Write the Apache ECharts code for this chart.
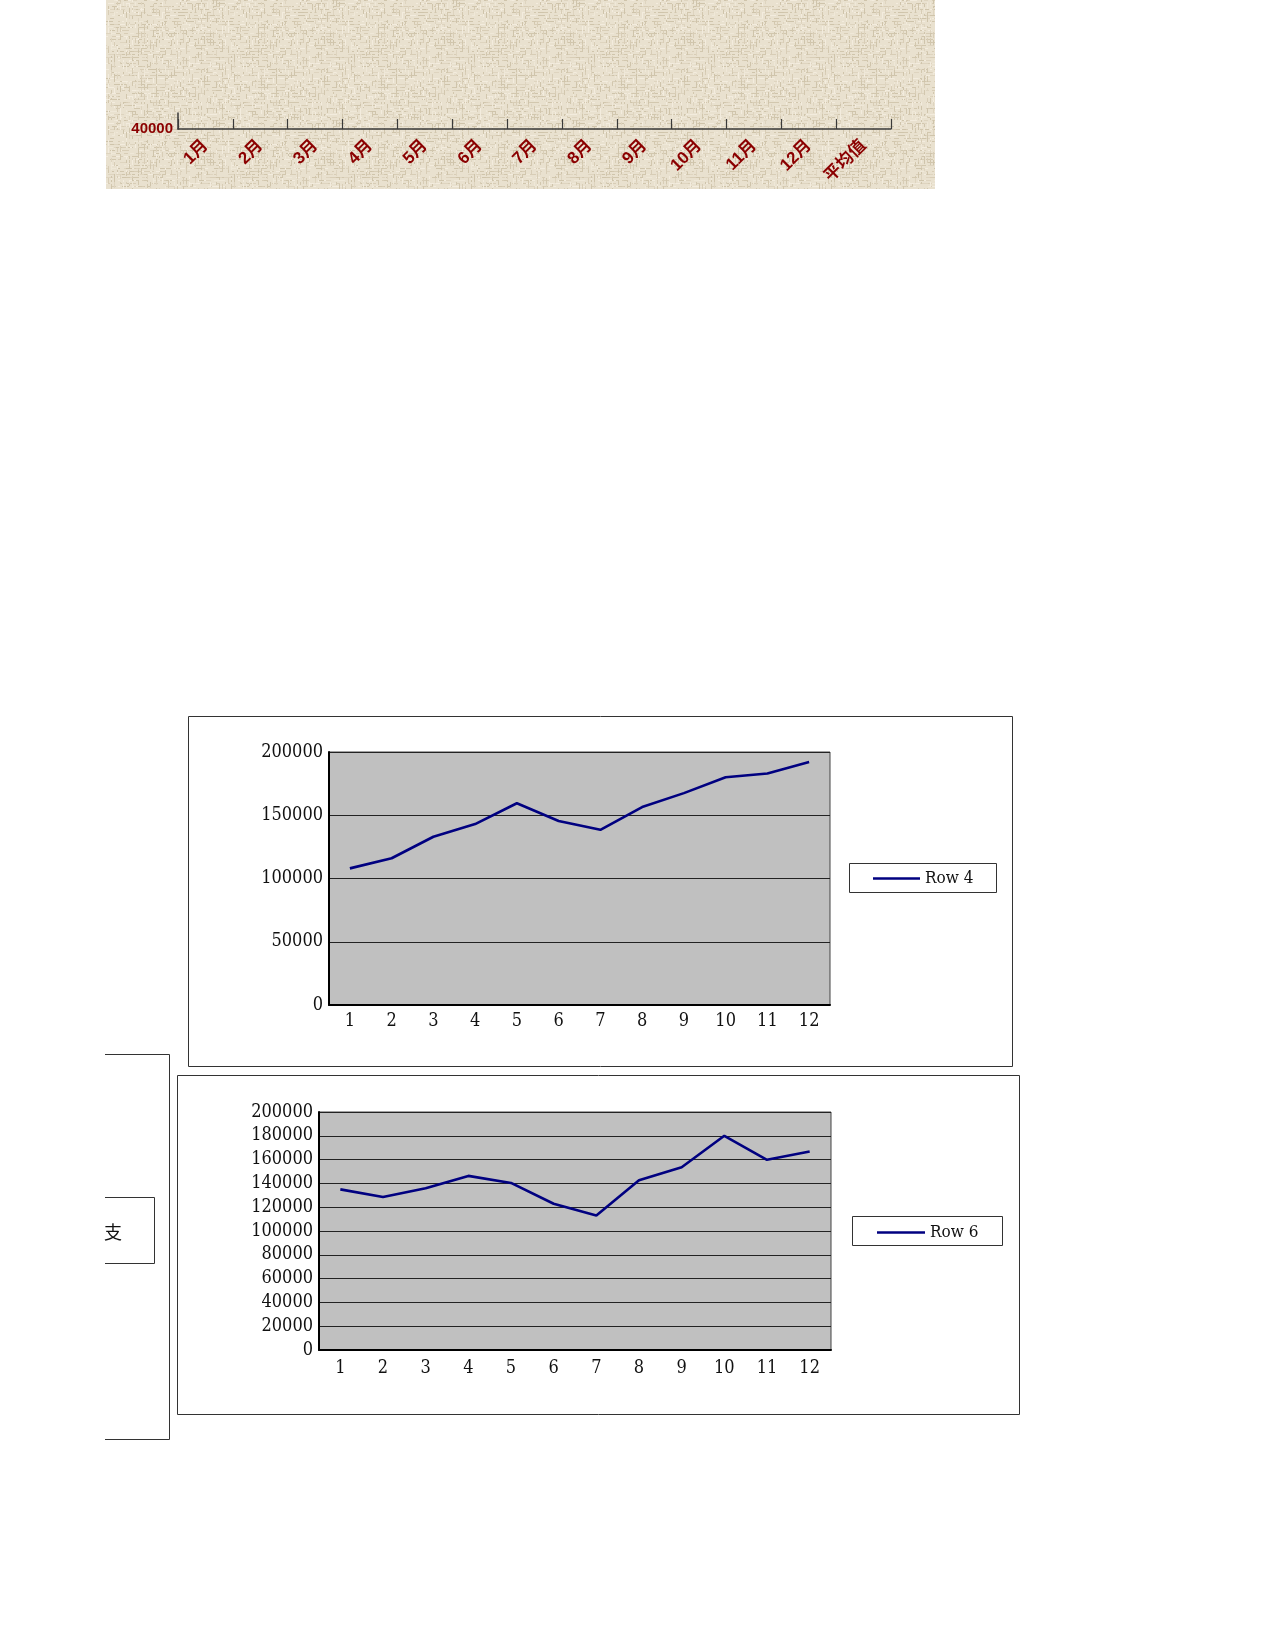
<!DOCTYPE html>
<html>
<head>
<meta charset="utf-8">
<script src="https://cdn.jsdelivr.net/npm/echarts@6/dist/echarts.min.js"></script>
<style>
html,body{margin:0;padding:0;background:#fff;}
#c{width:1275px;height:1650px;}
</style>
</head>
<body>
<div id="c"></div>
<script>
// ---- data ----
var topCategories = ['1月','2月','3月','4月','5月','6月','7月','8月','9月','10月','11月','12月','平均值'];
var topYMin = 40000;
var monthNumbers = ['1','2','3','4','5','6','7','8','9','10','11','12'];
var row4Values = [108000, 116000, 133000, 143000, 159500, 145500, 138500, 156500, 167500, 180000, 183000, 192000];
var row6Values = [135000, 128600, 135900, 146300, 140400, 122900, 113100, 142600, 153600, 180000, 159800, 166800];
var row4Name = 'Row 4';
var row6Name = 'Row 6';
var leftBoxText = '支';

// ---- texture for the top band (decoration only) ----
function makeTexture(){
  var cv = document.createElement('canvas');
  cv.width = 120; cv.height = 120;
  var ctx = cv.getContext('2d');
  ctx.fillStyle = '#e9e1cf';
  ctx.fillRect(0,0,120,120);
  var s = 9871;
  function rnd(){ s = (s*1103515245 + 12345) & 0x7fffffff; return s/0x7fffffff; }
  var cols = ['#d8cdb6','#f3ecde','#d2c7ae','#efe8d8','#ded4bf','#cfc4ab'];
  for (var y=0; y<120; y+=3){
    for (var x=0; x<120; x+=2){
      if (rnd() < 0.35){
        ctx.fillStyle = cols[Math.floor(rnd()*cols.length)];
        ctx.fillRect(x, y, 2 + Math.floor(rnd()*6), 1);
      }
    }
  }
  for (var x2=0; x2<120; x2+=3){
    for (var y2=0; y2<120; y2+=2){
      if (rnd() < 0.25){
        ctx.fillStyle = cols[Math.floor(rnd()*cols.length)];
        ctx.fillRect(x2, y2, 1, 2 + Math.floor(rnd()*5));
      }
    }
  }
  return cv;
}

var serif = "'DejaVu Serif Condensed','Liberation Serif',serif";
function plain(v){ return String(v); }
var chart = echarts.init(document.getElementById('c'), null, {renderer:'canvas'});

var option = {
  animation: false,
  backgroundColor: '#ffffff',
  graphic: [
    {type:'rect', z:-10, shape:{x:106,y:0,width:829,height:189}, style:{fill:{image:makeTexture(), repeat:'repeat'}}},
    {type:'rect', z:-10, shape:{x:188.5,y:716.5,width:824,height:350}, style:{fill:'#fff', stroke:'#333', lineWidth:1}},
    {type:'rect', z:-5, shape:{x:849.5,y:863.5,width:147,height:29}, style:{fill:'#fff', stroke:'#333', lineWidth:1}},
    {type:'polyline', z:-10, shape:{points:[[105,1054.5],[169.5,1054.5],[169.5,1439.5],[105,1439.5]]}, style:{fill:null, stroke:'#333', lineWidth:1}},
    {type:'polyline', z:-10, shape:{points:[[105,1197.5],[154.5,1197.5],[154.5,1263.5],[105,1263.5]]}, style:{fill:null, stroke:'#333', lineWidth:1}},
    {type:'text', z:-9, style:{x:104, y:1232, text:leftBoxText, fill:'#111', font:"18px 'Noto Sans CJK SC'", verticalAlign:'middle'}},
    {type:'rect', z:-10, shape:{x:177.5,y:1075.5,width:842,height:339}, style:{fill:'#fff', stroke:'#333', lineWidth:1}},
    {type:'rect', z:-5, shape:{x:852.5,y:1216.5,width:150,height:29}, style:{fill:'#fff', stroke:'#333', lineWidth:1}}
  ],
  legend: [
    {data:[row4Name], left:873, top:870, padding:0, icon:'rect', itemWidth:47, itemHeight:2.5, itemGap:6,
     textStyle:{fontFamily:serif, fontSize:17, color:'#111'}},
    {data:[row6Name], left:877, top:1224, padding:0, icon:'rect', itemWidth:48, itemHeight:2.5, itemGap:6,
     textStyle:{fontFamily:serif, fontSize:17, color:'#111'}}
  ],
  grid: [
    {left:178, top:113, width:713, height:16, show:false},
    {left:329, top:752, width:501, height:253, show:true, backgroundColor:'#c0c0c0', borderColor:'#444', borderWidth:1},
    {left:319, top:1112, width:512, height:238, show:true, backgroundColor:'#c0c0c0', borderColor:'#444', borderWidth:1}
  ],
  xAxis: [
    {gridIndex:0, type:'category', data:topCategories, boundaryGap:true,
     axisLine:{show:true, lineStyle:{color:'#3a3a3a', width:1.5}},
     axisTick:{show:true, inside:true, length:10, lineStyle:{color:'#3a3a3a', width:1.2}},
     axisLabel:{rotate:45, margin:14, color:'#8b0000', fontWeight:'bold', fontSize:17, fontFamily:"'Liberation Sans','Noto Sans CJK SC',sans-serif", interval:0}},
    {gridIndex:1, type:'category', data:monthNumbers, boundaryGap:true,
     axisLine:{lineStyle:{color:'#000', width:2}},
     axisTick:{inside:true, length:10, lineStyle:{color:'#000', width:1}},
     axisLabel:{margin:7, color:'#111', fontSize:18, fontFamily:serif, interval:0}},
    {gridIndex:2, type:'category', data:monthNumbers, boundaryGap:true,
     axisLine:{lineStyle:{color:'#000', width:2}},
     axisTick:{inside:true, length:10, lineStyle:{color:'#000', width:1}},
     axisLabel:{margin:9, color:'#111', fontSize:18, fontFamily:serif, interval:0}}
  ],
  yAxis: [
    {gridIndex:0, type:'value', min:topYMin, max:topYMin+10000, interval:10000,
     axisLine:{show:true, lineStyle:{color:'#3a3a3a', width:1.5}}, axisTick:{show:false}, splitLine:{show:false},
     axisLabel:{margin:5, color:'#8b0000', fontWeight:'bold', fontSize:15, fontFamily:"'Liberation Sans',sans-serif",
       padding:[5,0,0,0],
       formatter:function(v){ return v===topYMin ? String(v) : ''; }}},
    {gridIndex:1, type:'value', min:0, max:200000, interval:50000,
     axisLine:{show:true, lineStyle:{color:'#000', width:2}}, axisTick:{show:false},
     splitLine:{lineStyle:{color:'#222', width:1}},
     axisLabel:{margin:6, color:'#111', fontSize:18, fontFamily:serif, formatter:plain}},
    {gridIndex:2, type:'value', min:0, max:200000, interval:20000,
     axisLine:{show:true, lineStyle:{color:'#000', width:2}}, axisTick:{show:false},
     splitLine:{lineStyle:{color:'#222', width:1}},
     axisLabel:{margin:6, color:'#111', fontSize:18, fontFamily:serif, formatter:plain}}
  ],
  series: [
    {name:row4Name, type:'line', xAxisIndex:1, yAxisIndex:1, data:row4Values, symbol:'none', showSymbol:false,
     lineStyle:{color:'#000080', width:2.6}, itemStyle:{color:'#000080'}},
    {name:row6Name, type:'line', xAxisIndex:2, yAxisIndex:2, data:row6Values, symbol:'none', showSymbol:false,
     lineStyle:{color:'#000080', width:2.6}, itemStyle:{color:'#000080'}}
  ]
};
chart.setOption(option);
</script>
</body>
</html>
